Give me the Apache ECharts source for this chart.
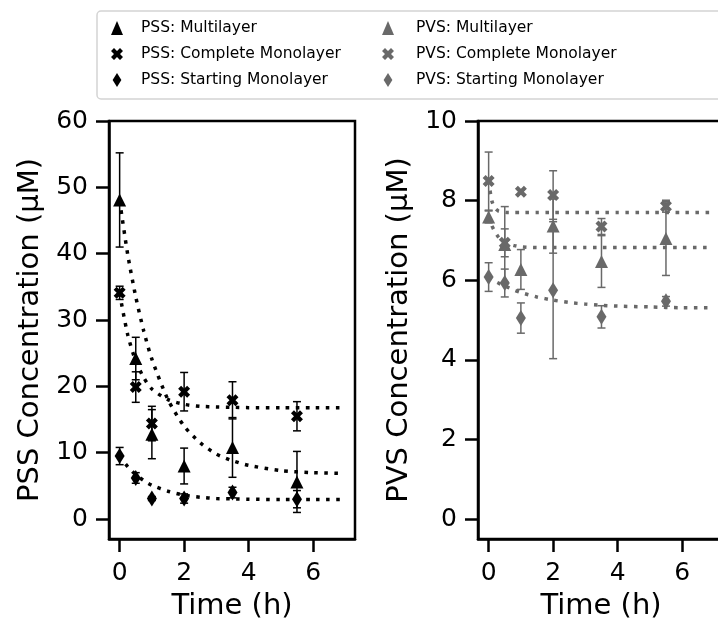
<!DOCTYPE html>
<html><head><meta charset="utf-8">
<script src="https://cdn.jsdelivr.net/npm/echarts@6/dist/echarts.min.js"></script>
<style>html,body{margin:0;padding:0;background:#fff}#c{width:718px;height:621px}</style>
</head><body><div id="c"></div>
<script>
// ---- data ----
const times = [0, 0.5, 1, 2, 3.5, 5.5];
const xTicks = [0, 2, 4, 6];
const pssTicks = [0, 10, 20, 30, 40, 50, 60];
const pvsTicks = [0, 2, 4, 6, 8, 10];

const pssMulti = [48.1, 24.2, 12.8, 8.0, 10.8, 5.6];
const pssMultiErr = [7.1, 3.2, 3.7, 2.7, 4.5, 4.6];
const pssComplete = [34.1, 19.9, 14.4, 19.2, 17.9, 15.5];
const pssCompleteErr = [1.0, 2.3, 2.6, 2.9, 2.8, 2.2];
const pssStarting = [9.5, 6.2, 3.1, 3.1, 4.0, 3.0];
const pssStartingErr = [1.3, 0.8, 0.3, 0.7, 0.8, 1.3];

const pvsMulti = [7.59, 6.9, 6.27, 7.36, 6.47, 7.05];
const pvsMultiErr = [0.15, 0.95, 0.5, 0.68, 0.65, 0.93];
const pvsComplete = [8.49, 6.94, 8.22, 8.14, 7.35, 7.86];
const pvsCompleteErr = [0.73, 0.35, 0.05, 0.61, 0.2, 0.15];
const pvsStarting = [6.08, 5.93, 5.05, 5.75, 5.08, 5.47];
const pvsStartingErr = [0.36, 0.35, 0.38, 1.72, 0.28, 0.12];

// fitted curves
const fitTimeL = [0, 0.25, 0.5, 0.75, 1, 1.5, 2, 2.5, 3, 3.5, 4, 5, 6, 6.9];
const pssMultiFit = [48.0, 39.9, 33.5, 28.3, 24.1, 18.0, 14.0, 11.5, 9.8, 8.8, 8.1, 7.3, 7.0, 6.9];
const pssCompleteFit = [34.0, 27.8, 23.8, 21.3, 19.6, 18.0, 17.3, 17.0, 16.9, 16.85, 16.8, 16.8, 16.8, 16.8];
const pssStartingFit = [9.5, 7.9, 6.7, 5.8, 5.1, 4.2, 3.6, 3.3, 3.1, 3.05, 3.0, 2.95, 2.95, 2.95];

const fitTimeR = [0, 0.1, 0.2, 0.3, 0.4, 0.6, 0.8, 1, 1.5, 2, 2.5, 3, 3.5, 4, 5, 6, 6.9];
const pvsCompleteFit = [8.5, 7.99, 7.81, 7.74, 7.72, 7.7, 7.7, 7.7, 7.7, 7.7, 7.7, 7.7, 7.7, 7.7, 7.7, 7.7, 7.7];
const pvsMultiFit = [7.6, 7.37, 7.21, 7.09, 7.01, 6.92, 6.87, 6.84, 6.82, 6.82, 6.82, 6.82, 6.82, 6.82, 6.82, 6.82, 6.82];
const pvsStartingFit = [6.07, 6.02, 5.97, 5.93, 5.89, 5.82, 5.75, 5.69, 5.58, 5.50, 5.44, 5.40, 5.37, 5.35, 5.33, 5.31, 5.31];

// ---- styling ----
const BLACK = '#000000';
const GRAY = '#696969';
const FONT = 'DejaVu Sans';
const SYM_TRI = 'triangle';
const SYM_X = 'path://M0,2.5 L2.5,0 L5,2.5 L7.5,0 L10,2.5 L7.5,5 L10,7.5 L7.5,10 L5,7.5 L2.5,10 L0,7.5 L2.5,5 Z';
const SYM_D = 'path://M5,0 L10,8 L5,16 L0,8 Z';

function zip(xs, ys) { return xs.map((x, i) => [x, ys[i]]); }

function markerSeries(name, gi, vals, symbol, size, color) {
  return {
    type: 'scatter', name, xAxisIndex: gi, yAxisIndex: gi,
    data: zip(times, vals), symbol, symbolSize: size, symbolKeepAspect: false,
    itemStyle: { color, opacity: 1 }, z: 5, silent: true
  };
}
function errSeries(name, gi, vals, errs, color) {
  return {
    type: 'custom', name, xAxisIndex: gi, yAxisIndex: gi, silent: true, z: 4,
    data: times.map((t, i) => [t, vals[i] - errs[i], vals[i] + errs[i]]),
    encode: { x: 0, y: [1, 2] },
    renderItem(params, api) {
      const lo = api.coord([api.value(0), api.value(1)]);
      const hi = api.coord([api.value(0), api.value(2)]);
      const c = 4;
      const style = { stroke: color, lineWidth: 1.5 };
      return { type: 'group', children: [
        { type: 'line', shape: { x1: lo[0], y1: lo[1], x2: hi[0], y2: hi[1] }, style },
        { type: 'line', shape: { x1: lo[0] - c, y1: lo[1], x2: lo[0] + c, y2: lo[1] }, style },
        { type: 'line', shape: { x1: hi[0] - c, y1: hi[1], x2: hi[0] + c, y2: hi[1] }, style }
      ] };
    }
  };
}
function fitSeries(name, gi, ts, vals, color) {
  return {
    type: 'line', name, xAxisIndex: gi, yAxisIndex: gi, data: zip(ts, vals),
    showSymbol: false, smooth: 0.25, silent: true, z: 3,
    lineStyle: { color, width: 3.5, type: [3.5, 6.5], cap: 'butt' }
  };
}
function xAxisCfg(gi) {
  return {
    type: 'value', gridIndex: gi, min: -0.33, max: 7.3,
    splitLine: { show: false },
    axisLine: { show: true, onZero: false, lineStyle: { color: BLACK, width: 2.5 } },
    axisTick: { show: true, length: 13, customValues: xTicks, lineStyle: { color: BLACK, width: 2.5 } },
    axisLabel: { customValues: xTicks, fontSize: 25, color: BLACK, fontFamily: FONT, margin: 22 },
    name: 'Time (h)', nameLocation: 'middle', nameGap: 53,
    nameTextStyle: { fontSize: 29, color: BLACK, fontFamily: FONT }
  };
}
function yAxisCfg(gi, min, max, ticks, name) {
  return {
    type: 'value', gridIndex: gi, min, max,
    splitLine: { show: false },
    axisLine: { show: true, onZero: false, lineStyle: { color: BLACK, width: 2.5 } },
    axisTick: { show: true, length: 13, customValues: ticks, lineStyle: { color: BLACK, width: 2.5 } },
    axisLabel: { customValues: ticks, fontSize: 25, color: BLACK, fontFamily: FONT, margin: 21 },
    name, nameLocation: 'middle', nameGap: 64,
    nameTextStyle: { fontSize: 29, color: BLACK, fontFamily: FONT }
  };
}

const chart = echarts.init(document.getElementById('c'), null, { renderer: 'canvas' });
const legendText1 = { fontSize: 15.5, color: BLACK, fontFamily: FONT, padding: [0, 0, 0, 13] };
const legendText2 = { fontSize: 15.5, color: BLACK, fontFamily: FONT, padding: [0, 0, 0, 17] };
chart.setOption({
  animation: false,
  backgroundColor: '#ffffff',
  graphic: [{
    type: 'rect', z: 0, silent: true,
    shape: { x: 97, y: 11, width: 650, height: 88, r: 4 },
    style: { fill: '#ffffff', stroke: '#d4d4d4', lineWidth: 1.5 }
  }],
  legend: [
    { left: 111, top: 20, orient: 'vertical', padding: 0, itemWidth: 12, itemHeight: 14, itemGap: 10,
      selectedMode: false, textStyle: legendText1,
      data: ['PSS: Multilayer', 'PSS: Complete Monolayer', 'PSS: Starting Monolayer'] },
    { left: 382, top: 20, orient: 'vertical', padding: 0, itemWidth: 12, itemHeight: 14, itemGap: 10,
      selectedMode: false, textStyle: legendText2,
      data: ['PVS: Multilayer', 'PVS: Complete Monolayer', 'PVS: Starting Monolayer'] }
  ],
  grid: [
    { left: 109, top: 121, width: 246, height: 418, show: true, borderColor: BLACK, borderWidth: 2.5,
      backgroundColor: 'transparent', outerBoundsMode: 'none', containLabel: false },
    { left: 478, top: 121, width: 246, height: 418, show: true, borderColor: BLACK, borderWidth: 2.5,
      backgroundColor: 'transparent', outerBoundsMode: 'none', containLabel: false }
  ],
  xAxis: [xAxisCfg(0), xAxisCfg(1)],
  yAxis: [
    yAxisCfg(0, -3, 60, pssTicks, 'PSS Concentration (μM)'),
    yAxisCfg(1, -0.5, 10, pvsTicks, 'PVS Concentration (μM)')
  ],
  series: [
    fitSeries('fit PSS multi', 0, fitTimeL, pssMultiFit, BLACK),
    fitSeries('fit PSS complete', 0, fitTimeL, pssCompleteFit, BLACK),
    fitSeries('fit PSS starting', 0, fitTimeL, pssStartingFit, BLACK),
    fitSeries('fit PVS multi', 1, fitTimeR, pvsMultiFit, GRAY),
    fitSeries('fit PVS complete', 1, fitTimeR, pvsCompleteFit, GRAY),
    fitSeries('fit PVS starting', 1, fitTimeR, pvsStartingFit, GRAY),
    errSeries('err PSS multi', 0, pssMulti, pssMultiErr, BLACK),
    errSeries('err PSS complete', 0, pssComplete, pssCompleteErr, BLACK),
    errSeries('err PSS starting', 0, pssStarting, pssStartingErr, BLACK),
    errSeries('err PVS multi', 1, pvsMulti, pvsMultiErr, GRAY),
    errSeries('err PVS complete', 1, pvsComplete, pvsCompleteErr, GRAY),
    errSeries('err PVS starting', 1, pvsStarting, pvsStartingErr, GRAY),
    markerSeries('PSS: Multilayer', 0, pssMulti, SYM_TRI, [13, 13], BLACK),
    markerSeries('PSS: Complete Monolayer', 0, pssComplete, SYM_X, [12, 12], BLACK),
    markerSeries('PSS: Starting Monolayer', 0, pssStarting, SYM_D, [10, 16], BLACK),
    markerSeries('PVS: Multilayer', 1, pvsMulti, SYM_TRI, [13, 13], GRAY),
    markerSeries('PVS: Complete Monolayer', 1, pvsComplete, SYM_X, [12, 12], GRAY),
    markerSeries('PVS: Starting Monolayer', 1, pvsStarting, SYM_D, [10, 16], GRAY)
  ]
});
</script>
</body></html>
